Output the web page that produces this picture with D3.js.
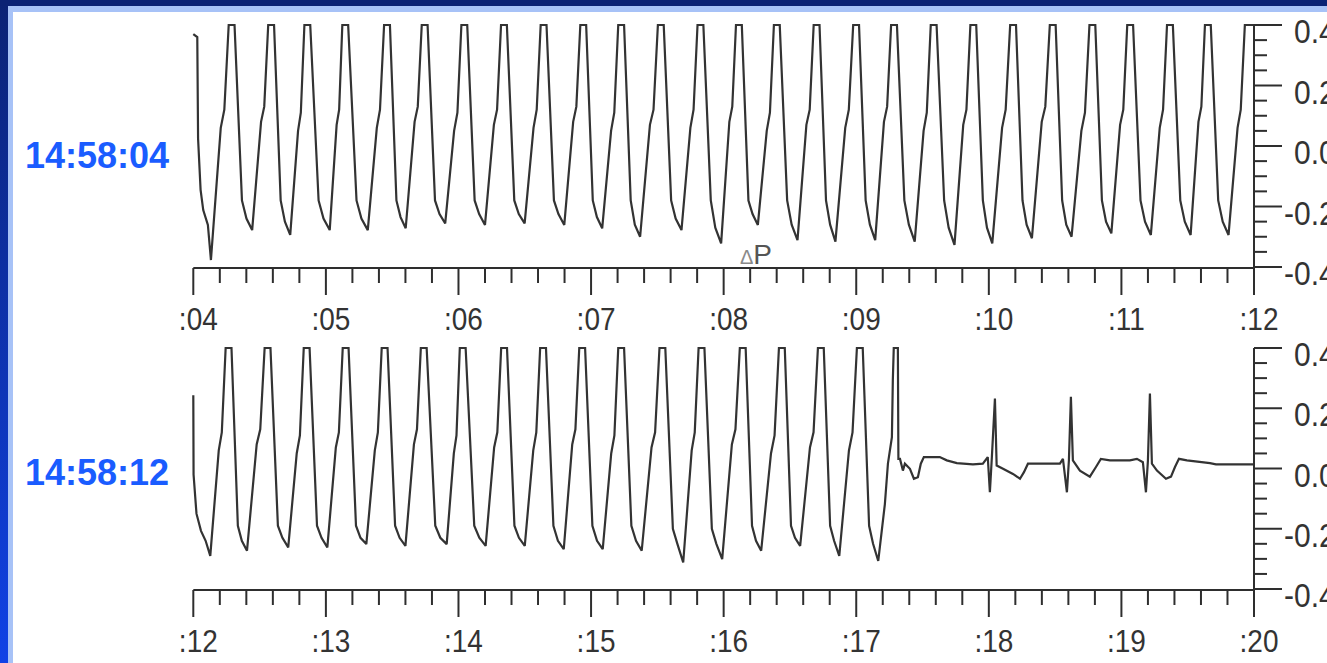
<!DOCTYPE html>
<html>
<head>
<meta charset="utf-8">
<script src="https://cdn.jsdelivr.net/npm/d3@7/dist/d3.min.js"></script>
<style>
html,body{margin:0;padding:0;background:#fff;overflow:hidden;}
svg{display:block;}
text{font-family:"Liberation Sans",Arial,Helvetica,sans-serif;}
</style>
</head>
<body>
<svg id="chart" width="1327" height="663"></svg>
<script>
// ---------- data ----------
const stripLabels = ["14:58:04", "14:58:12"];
const strip1Domain = [4, 12];
const strip2Domain = [12, 20];
const xTickLabels1 = [":04", ":05", ":06", ":07", ":08", ":09", ":10", ":11", ":12"];
const xTickLabels2 = [":12", ":13", ":14", ":15", ":16", ":17", ":18", ":19", ":20"];
const yTickValues = [0.4, 0.2, 0.0, -0.2, -0.4];
const yTickLabels = ["0.4", "0.2", "0.0", "-0.2", "-0.4"];
const markerText = "P";
const markerTime = 8.123;

// strip 1 trace: [seconds past 14:58, amplitude]
const strip1Trace = [
 [4.000,0.37],[4.030,0.36],[4.036,0.025],[4.055,-0.145],[4.075,-0.212],[4.110,-0.261],[4.133,-0.377],
 [4.207,0.06],[4.234,0.12],[4.267,0.4],[4.311,0.4],[4.367,-0.18],[4.401,-0.24],[4.444,-0.278],
 [4.511,0.08],[4.535,0.13],[4.565,0.4],[4.609,0.4],[4.659,-0.18],[4.691,-0.25],[4.731,-0.294],
 [4.790,0.05],[4.811,0.11],[4.838,0.4],[4.882,0.4],[4.945,-0.18],[4.982,-0.24],[5.029,-0.278],
 [5.081,0.07],[5.100,0.12],[5.124,0.4],[5.168,0.4],[5.231,-0.18],[5.268,-0.24],[5.316,-0.278],
 [5.384,0.06],[5.408,0.12],[5.439,0.4],[5.483,0.4],[5.532,-0.18],[5.563,-0.235],[5.602,-0.272],
 [5.669,0.08],[5.693,0.13],[5.723,0.4],[5.767,0.4],[5.823,-0.18],[5.857,-0.225],[5.900,-0.256],
 [5.967,0.05],[5.992,0.11],[6.022,0.4],[6.066,0.4],[6.122,-0.18],[6.156,-0.225],[6.200,-0.261],
 [6.267,0.07],[6.291,0.12],[6.321,0.4],[6.365,0.4],[6.421,-0.18],[6.455,-0.225],[6.499,-0.256],
 [6.566,0.06],[6.590,0.12],[6.620,0.4],[6.664,0.4],[6.720,-0.18],[6.754,-0.225],[6.798,-0.261],
 [6.865,0.08],[6.889,0.13],[6.919,0.4],[6.963,0.4],[7.013,-0.18],[7.044,-0.235],[7.084,-0.272],
 [7.151,0.05],[7.175,0.11],[7.205,0.4],[7.249,0.4],[7.299,-0.18],[7.330,-0.26],[7.370,-0.30],
 [7.444,0.07],[7.471,0.12],[7.504,0.4],[7.548,0.4],[7.604,-0.18],[7.638,-0.24],[7.682,-0.278],
 [7.749,0.06],[7.773,0.12],[7.803,0.4],[7.847,0.4],[7.903,-0.18],[7.937,-0.27],[7.981,-0.322],
 [8.043,0.08],[8.065,0.13],[8.093,0.4],[8.137,0.4],[8.187,-0.18],[8.218,-0.225],[8.258,-0.261],
 [8.325,0.05],[8.349,0.11],[8.379,0.4],[8.423,0.4],[8.479,-0.18],[8.513,-0.26],[8.557,-0.311],
 [8.624,0.07],[8.649,0.12],[8.679,0.4],[8.723,0.4],[8.772,-0.18],[8.803,-0.26],[8.843,-0.316],
 [8.917,0.06],[8.944,0.12],[8.977,0.4],[9.021,0.4],[9.071,-0.18],[9.103,-0.26],[9.143,-0.311],
 [9.209,0.08],[9.233,0.13],[9.263,0.4],[9.307,0.4],[9.363,-0.18],[9.397,-0.26],[9.441,-0.316],
 [9.508,0.05],[9.532,0.11],[9.562,0.4],[9.606,0.4],[9.663,-0.18],[9.697,-0.27],[9.741,-0.327],
 [9.807,0.07],[9.831,0.12],[9.861,0.4],[9.905,0.4],[9.955,-0.18],[9.986,-0.27],[10.026,-0.322],
 [10.100,0.06],[10.127,0.12],[10.161,0.4],[10.205,0.4],[10.254,-0.18],[10.285,-0.26],[10.325,-0.305],
 [10.399,0.08],[10.426,0.13],[10.460,0.4],[10.504,0.4],[10.553,-0.18],[10.584,-0.26],[10.624,-0.30],
 [10.698,0.05],[10.725,0.11],[10.759,0.4],[10.803,0.4],[10.853,-0.18],[10.884,-0.25],[10.924,-0.289],
 [10.990,0.07],[11.014,0.12],[11.044,0.4],[11.088,0.4],[11.144,-0.18],[11.178,-0.25],[11.222,-0.294],
 [11.289,0.06],[11.314,0.12],[11.344,0.4],[11.388,0.4],[11.444,-0.18],[11.478,-0.25],[11.522,-0.294],
 [11.581,0.08],[11.603,0.13],[11.630,0.4],[11.674,0.4],[11.730,-0.18],[11.764,-0.25],[11.808,-0.294],
 [11.876,0.06],[11.900,0.12],[11.931,0.4],[12.000,0.4]
];

// strip 2 trace
const strip2Trace = [
 [12.000,0.243],[12.002,-0.02],[12.024,-0.15],[12.058,-0.207],[12.093,-0.24],[12.128,-0.29],
 [12.192,0.06],[12.215,0.12],[12.244,0.4],[12.288,0.4],[12.336,-0.19],[12.366,-0.24],[12.405,-0.273],
 [12.478,0.08],[12.505,0.13],[12.538,0.4],[12.582,0.4],[12.638,-0.19],[12.672,-0.23],[12.716,-0.262],
 [12.780,0.05],[12.804,0.11],[12.833,0.4],[12.877,0.4],[12.933,-0.19],[12.967,-0.23],[13.011,-0.262],
 [13.075,0.07],[13.098,0.12],[13.127,0.4],[13.171,0.4],[13.227,-0.19],[13.261,-0.23],[13.305,-0.251],
 [13.369,0.06],[13.392,0.12],[13.421,0.4],[13.465,0.4],[13.522,-0.19],[13.556,-0.23],[13.600,-0.257],
 [13.664,0.08],[13.687,0.13],[13.716,0.4],[13.760,0.4],[13.825,-0.19],[13.863,-0.23],[13.911,-0.251],
 [13.965,0.05],[13.985,0.11],[14.010,0.4],[14.054,0.4],[14.119,-0.19],[14.157,-0.23],[14.205,-0.257],
 [14.269,0.07],[14.293,0.12],[14.322,0.4],[14.366,0.4],[14.422,-0.19],[14.456,-0.23],[14.500,-0.257],
 [14.564,0.06],[14.587,0.12],[14.616,0.4],[14.660,0.4],[14.716,-0.19],[14.750,-0.24],[14.794,-0.268],
 [14.858,0.08],[14.882,0.13],[14.911,0.4],[14.955,0.4],[15.010,-0.19],[15.045,-0.24],[15.088,-0.268],
 [15.152,0.05],[15.176,0.11],[15.205,0.4],[15.249,0.4],[15.304,-0.19],[15.339,-0.24],[15.382,-0.273],
 [15.456,0.07],[15.483,0.12],[15.516,0.4],[15.560,0.4],[15.617,-0.2],[15.651,-0.25],[15.695,-0.312],
 [15.759,0.06],[15.782,0.12],[15.811,0.4],[15.855,0.4],[15.911,-0.2],[15.945,-0.25],[15.989,-0.301],
 [16.062,0.08],[16.089,0.13],[16.122,0.4],[16.166,0.4],[16.214,-0.19],[16.244,-0.24],[16.283,-0.273],
 [16.357,0.05],[16.384,0.11],[16.417,0.4],[16.461,0.4],[16.508,-0.19],[16.538,-0.23],[16.577,-0.257],
 [16.651,0.07],[16.678,0.12],[16.711,0.4],[16.755,0.4],[16.803,-0.19],[16.833,-0.24],[16.872,-0.29],
 [16.945,0.06],[16.972,0.12],[17.005,0.4],[17.049,0.4],[17.097,-0.19],[17.127,-0.25],[17.166,-0.307],
 [17.216,-0.118],[17.239,0.016],[17.269,0.104],[17.276,0.293],[17.283,0.4],[17.314,0.4],
 [17.318,0.032],[17.330,0.032],[17.352,-0.007],[17.367,0.016],[17.405,-0.001],[17.435,-0.034],
 [17.465,-0.029],[17.487,0.016],[17.510,0.038],[17.630,0.038],[17.683,0.027],[17.759,0.018],
 [17.880,0.014],[17.955,0.016],[17.992,0.038],[18.008,-0.079],[18.023,0.038],[18.046,0.232],
 [18.059,0.01],[18.107,-0.001],[18.182,-0.018],[18.235,-0.034],[18.265,-0.012],[18.295,0.016],
 [18.536,0.016],[18.559,0.032],[18.589,-0.079],[18.604,0.027],[18.619,0.238],[18.634,0.027],
 [18.687,-0.007],[18.762,-0.027],[18.808,0.005],[18.845,0.032],[18.913,0.027],[19.064,0.027],
 [19.117,0.032],[19.162,0.021],[19.185,-0.079],[19.200,0.027],[19.215,0.249],[19.230,0.016],
 [19.268,-0.007],[19.336,-0.034],[19.374,-0.027],[19.404,0.005],[19.434,0.032],[19.494,0.027],
 [19.668,0.018],[19.713,0.014],[20.000,0.014]
];

// ---------- drawing ----------
const svg = d3.select("#chart");
const W = 1327, H = 663;

const defs = svg.append("defs");
const grad = defs.append("linearGradient").attr("id","frameGrad")
  .attr("x1","0").attr("y1","0").attr("x2","0").attr("y2","1");
grad.append("stop").attr("offset","0%").attr("stop-color","#0b2274");
grad.append("stop").attr("offset","100%").attr("stop-color","#1042e6");

svg.append("rect").attr("x",0).attr("y",0).attr("width",W).attr("height",H).attr("fill","url(#frameGrad)");
svg.append("rect").attr("x",0).attr("y",0).attr("width",W).attr("height",6).attr("fill","#0b2274");
svg.append("rect").attr("x",8).attr("y",6).attr("width",W-8).attr("height",H-6).attr("fill","#a7c2f7");
svg.append("rect").attr("x",13).attr("y",12).attr("width",W-13).attr("height",H-12).attr("fill","#ffffff");

const X0 = 193.3, X1 = 1254;
const strips = [
  {domain: strip1Domain, trace: strip1Trace, ticks: xTickLabels1, label: stripLabels[0], yTop: 25, yBot: 267, labelY: 155},
  {domain: strip2Domain, trace: strip2Trace, ticks: xTickLabels2, label: stripLabels[1], yTop: 348, yBot: 589, labelY: 472}
];

const axisColor = "#2e2e2e";

strips.forEach((s, si) => {
  const x = d3.scaleLinear().domain(s.domain).range([X0, X1]);
  const y = d3.scaleLinear().domain([-0.4, 0.4]).range([s.yBot, s.yTop]);
  const g = svg.append("g");

  // trace
  const line = d3.line().x(d => x(d[0])).y(d => y(d[1]));
  g.append("path").datum(s.trace)
    .attr("d", line)
    .attr("fill","none")
    .attr("stroke","#333")
    .attr("stroke-width",2.2)
    .attr("stroke-linejoin","miter")
    .attr("stroke-miterlimit",2);

  // bottom time axis
  const minorTicks = d3.range(s.domain[0], s.domain[1] + 0.0001, 0.2);
  g.append("line").attr("x1",x(s.domain[0])).attr("x2",x(s.domain[1]))
    .attr("y1",s.yBot+1).attr("y2",s.yBot+1)
    .attr("stroke",axisColor).attr("stroke-width",2);
  g.selectAll(".xt").data(minorTicks).enter().append("line")
    .attr("x1",d => x(d)).attr("x2",d => x(d))
    .attr("y1",s.yBot+1)
    .attr("y2",(d,i) => s.yBot + 1 + (i % 5 === 0 ? 27 : 15))
    .attr("stroke",axisColor).attr("stroke-width",2);
  const secs = d3.range(s.domain[0], s.domain[1] + 0.5, 1);
  g.selectAll(".xl").data(secs).enter().append("text")
    .attr("transform",(d,i) => `translate(${x(d)+5},${s.yBot+63}) scale(1,1.15)`)
    .attr("text-anchor","middle")
    .attr("font-size",28)
    .attr("fill","#333")
    .text((d,i) => s.ticks[i]);

  // right amplitude axis
  g.append("line").attr("x1",X1).attr("x2",X1)
    .attr("y1",s.yTop).attr("y2",s.yBot+28)
    .attr("stroke",axisColor).attr("stroke-width",2);
  const yMinor = d3.range(-0.4, 0.4001, 0.05);
  g.selectAll(".yt").data(yMinor).enter().append("line")
    .attr("x1",X1).attr("y1",d => y(d)).attr("y2",d => y(d))
    .attr("x2",(d,i) => X1 + (i % 4 === 0 ? 28 : 13))
    .attr("stroke",axisColor).attr("stroke-width",2);
  g.selectAll(".yl").data(yTickValues).enter().append("text")
    .attr("transform",d => `translate(${d < 0 ? 1284 : 1294},${y(d)+18}) scale(1,1.1)`)
    .attr("font-size",30)
    .attr("fill","#333")
    .text((d,i) => yTickLabels[i]);

  // start time label
  svg.append("text")
    .attr("x",25).attr("y",s.labelY + 13)
    .attr("font-size",36).attr("font-weight","bold")
    .attr("fill","#1a5cff")
    .text(s.label);

  if (si === 0) {
    const mx = x(markerTime);
    const mk = g.append("text").attr("x",mx).attr("y",s.yBot - 3);
    mk.append("tspan").attr("font-size",20).attr("fill","#8a8a8a").text("\u0394");
    mk.append("tspan").attr("font-size",28).attr("fill","#555").text(markerText);
  }
});
</script>
</body>
</html>
